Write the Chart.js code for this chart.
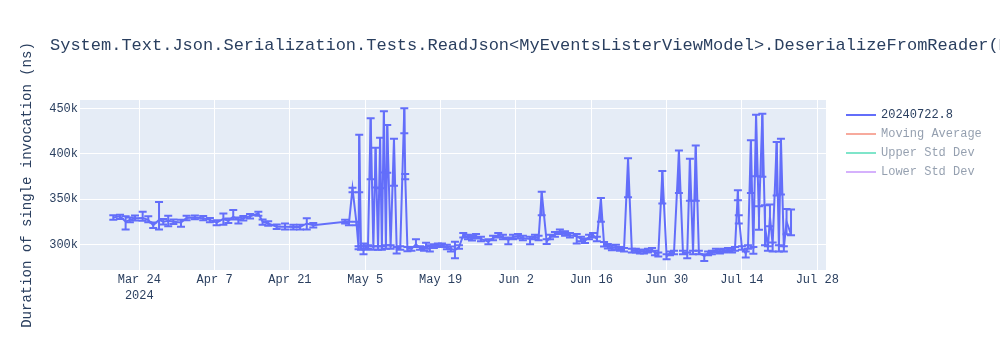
<!DOCTYPE html>
<html>
<head>
<meta charset="utf-8">
<title>ReadJson DeserializeFromReader</title>
<script src="https://cdn.jsdelivr.net/npm/chart.js@4.4.1/dist/chart.umd.min.js"></script>
<style>
  html, body { margin: 0; padding: 0; background: #fff; }
  canvas { display: block; }
</style>
</head>
<body>
<canvas id="chart" width="1000" height="350"></canvas>
<script>
const titleText = 'System.Text.Json.Serialization.Tests.ReadJson<MyEventsListerViewModel>.DeserializeFromReader(Mode: Reflection)';
const yAxisTitle = 'Duration of single invocation (ns)';

// benchmark runs (UTC)
const runDates = [
  '2024-03-19T04:00', '2024-03-20T10:00', '2024-03-21T11:00', '2024-03-22T06:00', '2024-03-23T05:00',
  '2024-03-24T15:00', '2024-03-25T16:00', '2024-03-26T14:00', '2024-03-27T16:00', '2024-03-28T11:00',
  '2024-03-29T09:00', '2024-03-30T08:00', '2024-03-31T18:00', '2024-04-01T19:00', '2024-04-03T08:00',
  '2024-04-04T21:00', '2024-04-06T03:00', '2024-04-07T09:00', '2024-04-08T15:00', '2024-04-09T13:00',
  '2024-04-10T11:00', '2024-04-11T10:00', '2024-04-12T08:00', '2024-04-13T14:00', '2024-04-15T03:00',
  '2024-04-15T22:00', '2024-04-16T23:00', '2024-04-18T13:00', '2024-04-20T02:00', '2024-04-21T15:00',
  '2024-04-22T21:00', '2024-04-24T03:00', '2024-04-25T08:00', '2024-05-01T06:00', '2024-05-01T23:00',
  '2024-05-02T15:00', '2024-05-03T09:00', '2024-05-03T18:00', '2024-05-03T21:00', '2024-05-04T05:00',
  '2024-05-04T16:00', '2024-05-05T02:00', '2024-05-05T12:00', '2024-05-06T00:00', '2024-05-06T12:00',
  '2024-05-06T22:00', '2024-05-07T09:00', '2024-05-07T18:00', '2024-05-08T02:00', '2024-05-08T11:00',
  '2024-05-08T20:00', '2024-05-09T02:00', '2024-05-09T17:00', '2024-05-10T08:00', '2024-05-10T20:00',
  '2024-05-11T12:00', '2024-05-12T06:00', '2024-05-12T10:00', '2024-05-12T20:00', '2024-05-13T14:00',
  '2024-05-14T10:00', '2024-05-15T04:00', '2024-05-15T22:00', '2024-05-16T07:00', '2024-05-17T00:00',
  '2024-05-17T18:00', '2024-05-18T12:00', '2024-05-19T06:00', '2024-05-20T04:00', '2024-05-20T22:00',
  '2024-05-21T16:00', '2024-05-22T10:00', '2024-05-23T05:00', '2024-05-24T02:00', '2024-05-24T20:00',
  '2024-05-25T14:00', '2024-05-26T12:00', '2024-05-27T21:00', '2024-05-28T18:00', '2024-05-29T17:00',
  '2024-05-30T14:00', '2024-05-31T14:00', '2024-06-01T11:00', '2024-06-02T09:00', '2024-06-03T07:00',
  '2024-06-04T15:00', '2024-06-05T13:00', '2024-06-06T05:00', '2024-06-06T19:00', '2024-06-07T17:00',
  '2024-06-08T08:00', '2024-06-09T06:00', '2024-06-10T04:00', '2024-06-11T03:00', '2024-06-12T01:00',
  '2024-06-13T07:00', '2024-06-14T02:00', '2024-06-14T20:00', '2024-06-15T14:00', '2024-06-16T08:00',
  '2024-06-17T01:00', '2024-06-17T19:00', '2024-06-18T09:00', '2024-06-19T02:00', '2024-06-19T20:00',
  '2024-06-20T14:00', '2024-06-21T08:00', '2024-06-22T02:00', '2024-06-22T20:00', '2024-06-23T13:00',
  '2024-06-24T07:00', '2024-06-25T01:00', '2024-06-25T19:00', '2024-06-26T13:00', '2024-06-27T07:00',
  '2024-06-27T20:00', '2024-06-28T11:00', '2024-06-29T05:00', '2024-06-30T00:00', '2024-06-30T15:00',
  '2024-07-01T09:00', '2024-07-02T07:00', '2024-07-03T01:00', '2024-07-03T20:00', '2024-07-04T08:00',
  '2024-07-04T22:00', '2024-07-05T10:00', '2024-07-06T00:00', '2024-07-07T00:00', '2024-07-07T17:00',
  '2024-07-08T10:00', '2024-07-09T04:00', '2024-07-09T22:00', '2024-07-10T16:00', '2024-07-11T10:00',
  '2024-07-12T04:00', '2024-07-12T17:00', '2024-07-13T06:00', '2024-07-13T10:00', '2024-07-14T00:00',
  '2024-07-14T17:00', '2024-07-15T03:00', '2024-07-15T16:00', '2024-07-16T03:00', '2024-07-16T15:00',
  '2024-07-17T04:00', '2024-07-17T19:00', '2024-07-18T07:00', '2024-07-18T20:00', '2024-07-19T05:00',
  '2024-07-19T17:00', '2024-07-20T11:00', '2024-07-20T21:00', '2024-07-21T06:00', '2024-07-21T19:00',
  '2024-07-22T07:00', '2024-07-23T03:00'
];

// mean duration per run, ns
const durations = [
  329700, 331000, 325000, 327000, 328700,
  329000, 327000, 321000, 327000, 325000,
  326000, 325000, 324000, 329000, 329700,
  328700, 327000, 324000, 328000, 326000,
  330500, 327000, 328700, 331000, 334000,
  325000, 323000, 319500, 319500, 319000,
  319000, 323000, 321000, 325000, 323000,
  361500, 323000, 296000, 420400, 296000,
  294000, 296000, 297000, 438500, 296000,
  406000, 296000, 417000, 296000, 446300,
  297000, 431000, 297000, 416000, 295000,
  296000, 449500, 377000, 295000, 295000,
  300000, 296000, 295000, 298000, 297000,
  298000, 299000, 299000, 297000, 295000,
  293700, 297000, 310000, 308000, 306600,
  309000, 306000, 303000, 307000, 310000,
  308000, 305000, 308000, 309000, 307000,
  306000, 308000, 307000, 357000, 303000,
  308000, 311000, 314000, 312000, 310000,
  309000, 306000, 304000, 308000, 310000,
  306000, 350000, 300000, 298000, 296000,
  297000, 295000, 294000, 394000, 293000,
  293000, 292000, 292000, 293000, 294000,
  291000, 289000, 379800, 287000, 290000,
  291000, 402500, 291000, 289000, 393400,
  291000, 408000, 291000, 287000, 290000,
  291000, 293000, 292000, 293000, 294000,
  293000, 295000, 358600, 331000, 296000,
  290000, 297000, 413900, 295000, 442000,
  330000, 443000, 320000, 296000, 330000,
  300000, 412000, 297000, 415500, 296000,
  325000, 311000
];

// error bar extents above / below each value, ns
const errorsUp = [
  2500, 1500, 6000, 2500, 3000,
  7000, 4000, 3000, 19800, 3000,
  5500, 2500, 3000, 2500, 2000,
  2500, 2000, 2500, 6000, 2500,
  7300, 2500, 2500, 2500, 2000,
  2500, 2500, 2500, 3500, 2500,
  2500, 5700, 2500, 2000, 2000,
  1000, 2000, 2000, 500, 2000,
  7000, 2000, 2000, 500, 2000,
  500, 2000, 500, 2000, 500,
  2000, 500, 2000, 500, 2000,
  2000, 500, 500, 2000, 2000,
  5500, 2000, 2000, 3800, 2000,
  2000, 2000, 2000, 2500, 2500,
  9200, 2000, 2500, 2500, 2500,
  2500, 2500, 2500, 2500, 2500,
  2500, 2500, 2500, 2500, 2500,
  2500, 2500, 2500, 1000, 2500,
  2500, 2500, 2500, 2500, 2500,
  2500, 2500, 2500, 2500, 2500,
  2500, 1000, 2500, 2500, 2500,
  2500, 2000, 2000, 1000, 2000,
  2000, 2000, 2000, 2000, 2000,
  2000, 2000, 1000, 2000, 2000,
  2000, 1000, 2000, 2000, 1000,
  2000, 1000, 2000, 2000, 2000,
  2000, 2000, 2000, 2000, 2000,
  2000, 2000, 1000, 1000, 2000,
  2000, 2000, 1000, 2000, 1000,
  12000, 1000, 23000, 2000, 14000,
  2000, 1000, 2000, 1000, 2000,
  14000, 27500
];
const errorsDown = [
  2500, 3000, 8500, 2500, 2500,
  3000, 2500, 3000, 10500, 3000,
  6000, 2500, 4500, 2500, 2000,
  2000, 2500, 3000, 6500, 2500,
  3000, 4000, 2500, 2500, 2500,
  3500, 2500, 2500, 3000, 2500,
  2500, 6500, 2500, 2000, 2000,
  4000, 2000, 1500, 63000, 2000,
  5000, 2000, 2000, 66700, 2000,
  43400, 2000, 55000, 2000, 67000,
  2000, 52000, 2000, 51400, 5000,
  2000, 27000, 5300, 2500, 2000,
  3000, 2000, 2000, 3000, 5000,
  2000, 2000, 2000, 2500, 3000,
  9100, 2000, 2500, 2500, 2500,
  2500, 2500, 3000, 2500, 2500,
  2500, 5000, 2500, 2500, 2500,
  6000, 2500, 2500, 25000, 2500,
  2500, 2500, 2500, 2500, 2500,
  8000, 2500, 2500, 2500, 2500,
  2500, 25000, 2500, 2500, 2500,
  2500, 2000, 2000, 42000, 2000,
  2000, 2000, 2000, 2000, 2000,
  3000, 2500, 34800, 3500, 2000,
  2000, 45800, 2000, 4400, 45400,
  2000, 60000, 2000, 5400, 2000,
  2000, 2000, 2000, 2000, 2000,
  2000, 2000, 9900, 8000, 2000,
  4400, 2000, 57200, 5500, 67000,
  14000, 68400, 21000, 3000, 10000,
  8000, 58000, 5000, 60500, 4000,
  14000, 1000
];

const tickDates = ['2024-03-24T00:00', '2024-04-07T00:00', '2024-04-21T00:00', '2024-05-05T00:00', '2024-05-19T00:00',
  '2024-06-02T00:00', '2024-06-16T00:00', '2024-06-30T00:00', '2024-07-14T00:00', '2024-07-28T00:00'];
const tickLabels = ['Mar 24', 'Apr 7', 'Apr 21', 'May 5', 'May 19', 'Jun 2', 'Jun 16', 'Jun 30', 'Jul 14', 'Jul 28'];
const tickYear = '2024';
const yTicks = [300000, 350000, 400000, 450000];

const seriesNames = ['20240722.8', 'Moving Average', 'Upper Std Dev', 'Lower Std Dev'];
const seriesColors = ['#636efa', '#EF553B', '#00cc96', '#ab63fa'];

const MONO = '"Courier New", "Liberation Mono", monospace';
const INK = '#2a3f5f';

const toTime = s => Date.parse(s + 'Z');
const runTimes = runDates.map(toTime);
const tickTimes = tickDates.map(toTime);

// plot area fill, under the grid
const plotBackground = {
  id: 'plotBackground',
  beforeDraw(chart) {
    const { ctx, chartArea: a } = chart;
    ctx.save();
    ctx.fillStyle = '#E5ECF6';
    ctx.fillRect(a.left, a.top, a.right - a.left, a.bottom - a.top);
    ctx.restore();
  }
};

// vertical error bars with caps for the first dataset
const errorBars = {
  id: 'errorBars',
  afterDatasetsDraw(chart) {
    const { ctx, chartArea: a, scales: { x, y } } = chart;
    ctx.save();
    ctx.beginPath();
    ctx.rect(a.left, a.top, a.right - a.left, a.bottom - a.top);
    ctx.clip();
    ctx.strokeStyle = seriesColors[0];
    ctx.lineWidth = 2;
    runTimes.forEach((t, i) => {
      const px = x.getPixelForValue(t);
      const hi = y.getPixelForValue(durations[i] + errorsUp[i]);
      const lo = y.getPixelForValue(durations[i] - errorsDown[i]);
      ctx.beginPath();
      ctx.moveTo(px, hi); ctx.lineTo(px, lo);
      ctx.moveTo(px - 4, hi); ctx.lineTo(px + 4, hi);
      ctx.moveTo(px - 4, lo); ctx.lineTo(px + 4, lo);
      ctx.stroke();
    });
    ctx.restore();
  }
};

// title (clipped by the canvas edge) and the legend on the right
const titleAndLegend = {
  id: 'titleAndLegend',
  afterDraw(chart) {
    const { ctx, chartArea: a } = chart;
    ctx.save();
    ctx.textBaseline = 'middle';
    ctx.fillStyle = INK;
    ctx.font = '17px ' + MONO;
    ctx.fillText(titleText, 50, 45);

    ctx.font = '12px ' + MONO;
    chart.data.datasets.forEach((ds, i) => {
      const ly = a.top + 15 + i * 19;
      const lx = a.right + 20;
      ctx.globalAlpha = ds.hidden ? 0.5 : 1;
      ctx.strokeStyle = ds.borderColor;
      ctx.lineWidth = 2;
      ctx.beginPath();
      ctx.moveTo(lx, ly);
      ctx.lineTo(lx + 30, ly);
      ctx.stroke();
      ctx.fillStyle = INK;
      ctx.fillText(ds.label, lx + 35, ly);
    });
    ctx.restore();
  }
};

const points = runTimes.map((t, i) => ({ x: t, y: durations[i] }));

new Chart(document.getElementById('chart'), {
  type: 'line',
  data: {
    datasets: seriesNames.map((name, i) => ({
      label: name,
      data: i === 0 ? points : [],
      hidden: i !== 0,
      borderColor: seriesColors[i],
      backgroundColor: seriesColors[i],
      borderWidth: 2,
      pointRadius: 0,
      tension: 0
    }))
  },
  options: {
    responsive: false,
    animation: false,
    events: [],
    layout: { padding: { top: 100, right: 174, bottom: 40, left: 0 } },
    plugins: {
      legend: { display: false },
      title: { display: false },
      tooltip: { enabled: false }
    },
    scales: {
      x: {
        type: 'linear',
        min: toTime('2024-03-12T23:30'),
        max: toTime('2024-07-29T15:00'),
        afterBuildTicks: s => { s.ticks = tickTimes.map(v => ({ value: v })); },
        afterFit: s => { s.height = 40; },
        ticks: {
          autoSkip: false,
          maxRotation: 0,
          minRotation: 0,
          padding: 2,
          color: INK,
          font: { family: MONO, size: 12, lineHeight: 1.3 },
          callback: (v, i) => i === 0 ? [tickLabels[i], tickYear] : tickLabels[i]
        },
        grid: { color: '#ffffff', lineWidth: 1, drawTicks: false },
        border: { display: false }
      },
      y: {
        type: 'linear',
        min: 271700,
        max: 459200,
        afterBuildTicks: s => { s.ticks = yTicks.map(v => ({ value: v })); },
        afterFit: s => { s.width = 80; },
        ticks: {
          padding: 2,
          color: INK,
          font: { family: MONO, size: 12 },
          callback: v => (v / 1000) + 'k'
        },
        title: {
          display: true,
          text: yAxisTitle,
          color: INK,
          font: { family: MONO, size: 14 },
          padding: { top: 19, bottom: 0 }
        },
        grid: { color: '#ffffff', lineWidth: 1, drawTicks: false },
        border: { display: false }
      }
    }
  },
  plugins: [plotBackground, errorBars, titleAndLegend]
});
</script>
</body>
</html>
